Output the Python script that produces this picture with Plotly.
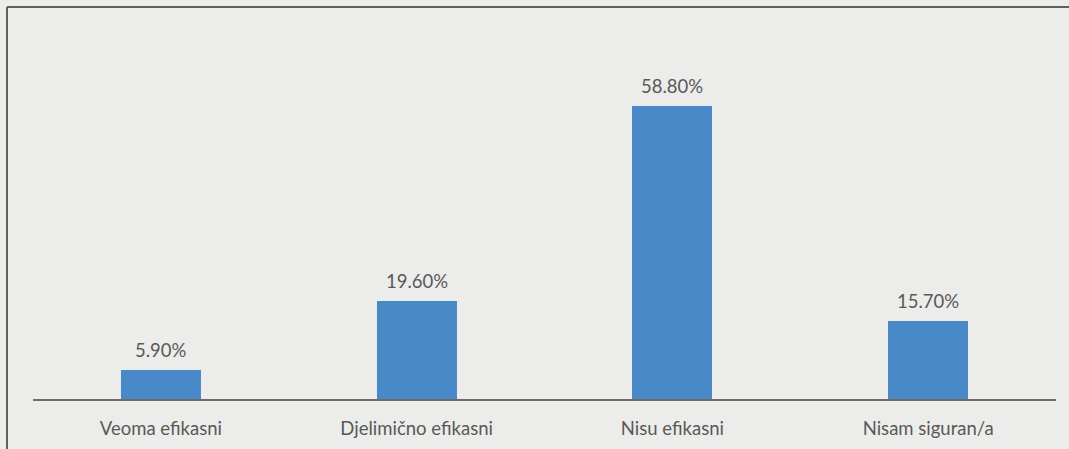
import plotly.graph_objects as go

categories = ["Veoma efikasni", "Djelimično efikasni", "Nisu efikasni", "Nisam siguran/a"]
values = [5.9, 19.6, 58.8, 15.7]
value_labels = ["5.90%", "19.60%", "58.80%", "15.70%"]

W, H = 1069, 449
ml, mr, mt, mb = 33, 13, 50, 50
FONT = "Lato, Carlito, sans-serif"

fig = go.Figure()
fig.add_trace(go.Bar(
    x=categories, y=values, width=0.313,
    marker=dict(color="#4A89C8", line=dict(width=0)),
    hoverinfo="skip",
))
for c, v, t in zip(categories, values, value_labels):
    fig.add_annotation(x=c, y=v, text=t, showarrow=False, yanchor="bottom",
                       yshift=7, font=dict(size=18.5, color="#595959", family=FONT))

pw = W - ml - mr
ph = H - mt - mb
px = lambda p: (p - ml) / pw
py = lambda p: (H - mb - p) / ph
bx, by = px(7), py(7)
fig.add_shape(type="line", xref="paper", yref="paper", x0=bx, x1=px(1075), y0=by, y1=by,
              line=dict(color="#5f615e", width=2))
fig.add_shape(type="line", xref="paper", yref="paper", x0=bx, x1=bx, y0=py(455), y1=by,
              line=dict(color="#5f615e", width=2))

fig.update_layout(
    width=W, height=H,
    margin=dict(l=ml, r=mr, t=mt, b=mb, autoexpand=False),
    paper_bgcolor="#ececea", plot_bgcolor="rgba(0,0,0,0)",
    showlegend=False, bargap=0,
    font=dict(family=FONT, size=18.5, color="#595959"),
)
fig.update_xaxes(showline=True, linecolor="#6b6b6b", linewidth=1.5, showgrid=False,
                 automargin=False,
                 ticks="", tickfont=dict(size=18.5, color="#595959"), ticklabelstandoff=12)
fig.update_yaxes(range=[0, 70], visible=False, showgrid=False, zeroline=False, automargin=False)

fig.write_html("out.html", config={"displayModeBar": False},
               post_script="document.body.style.margin='0';document.body.style.overflow='hidden';")
